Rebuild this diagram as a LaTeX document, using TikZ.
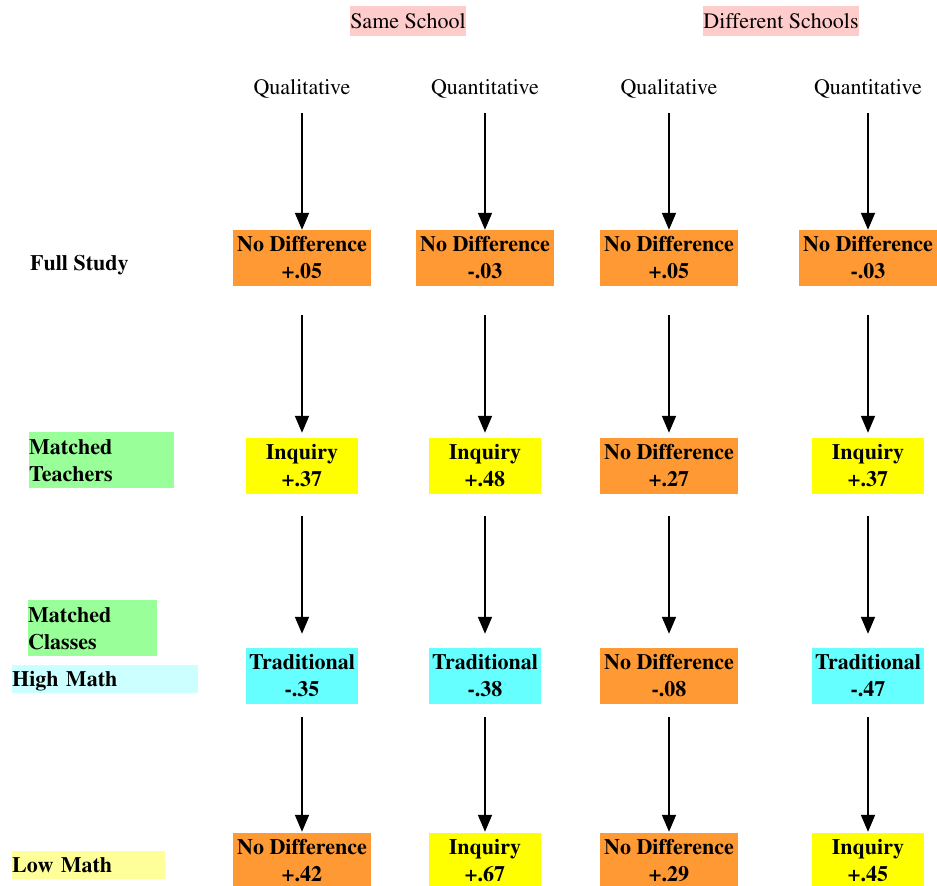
\documentclass[tikz,border=0pt]{standalone}
\usepackage[T1]{fontenc}
\renewcommand{\rmdefault}{ptm}
\usetikzlibrary{arrows.meta}
\definecolor{resorange}{HTML}{FF9933}
\definecolor{resyellow}{HTML}{FFFF00}
\definecolor{rescyan}{HTML}{66FFFF}
\definecolor{labgreen}{HTML}{99FF99}
\definecolor{labcyan}{HTML}{CCFFFF}
\definecolor{labyellow}{HTML}{FFFF99}
\definecolor{grouppink}{HTML}{FFCCCC}
\begin{document}
\begin{tikzpicture}[x=1pt,y=-1pt,
  every node/.style={inner sep=0pt, font=\fontsize{22}{27}\selectfont},
  result/.style={font=\fontsize{22}{27}\selectfont\bfseries, align=center, minimum height=56pt},
  nodiff/.style={result, fill=resorange, minimum width=138pt},
  inquiry/.style={result, fill=resyellow, minimum width=112pt},
  trad/.style={result, fill=rescyan, minimum width=112pt},
  flow/.style={line width=1.8pt, -{Triangle[length=17pt,width=14pt]}},
  header/.style={anchor=base, text depth=0pt},
  group/.style={fill=grouppink, text height=15pt, text depth=0pt, minimum height=30pt},
  rowlabel/.style={font=\fontsize{22}{27}\selectfont\bfseries, align=left, anchor=north west},
  onelabel/.style={rowlabel, minimum height=28pt, text height=15pt, text depth=0pt},
  twolabel/.style={rowlabel, minimum height=56pt},
]
\useasboundingbox (0,0) rectangle (937,886);

% column groups
\node[group, minimum width=112pt] (same) at (408,21) {Same School};
\node[group, minimum width=156pt] (diff) at (781,21) {Different Schools};

% method headers
\node[header] (h1) at (302,94) {Qualitative};
\node[header] (h2) at (485,94) {Quantitative};
\node[header] (h3) at (669,94) {Qualitative};
\node[header] (h4) at (868,94) {Quantitative};

% row labels
\node[rowlabel, anchor=base west] (full) at (30,270) {Full Study};
\node[twolabel, fill=labgreen, text width=145pt] (teach) at (29,432) {Matched\\Teachers};
\node[twolabel, fill=labgreen, text width=129pt] (class) at (28,600) {Matched\\Classes};
\node[onelabel, fill=labcyan, text width=186pt] (high) at (12,665) {High Math};
\node[onelabel, fill=labyellow, text width=153pt] (low) at (12,851) {Low Math};

% results: full study
\node[nodiff] (r1c1) at (302,258) {No Difference\\+.05};
\node[nodiff] (r1c2) at (485,258) {No Difference\\-.03};
\node[nodiff] (r1c3) at (669,258) {No Difference\\+.05};
\node[nodiff] (r1c4) at (868,258) {No Difference\\-.03};

% results: matched teachers
\node[inquiry] (r2c1) at (302,466) {Inquiry\\+.37};
\node[inquiry] (r2c2) at (485,466) {Inquiry\\+.48};
\node[nodiff]  (r2c3) at (669,466) {No Difference\\+.27};
\node[inquiry] (r2c4) at (868,466) {Inquiry\\+.37};

% results: matched classes, high math
\node[trad]   (r3c1) at (302,676) {Traditional\\-.35};
\node[trad]   (r3c2) at (485,676) {Traditional\\-.38};
\node[nodiff] (r3c3) at (669,676) {No Difference\\-.08};
\node[trad]   (r3c4) at (868,676) {Traditional\\-.47};

% results: low math
\node[nodiff]  (r4c1) at (302,861) {No Difference\\+.42};
\node[inquiry] (r4c2) at (485,861) {Inquiry\\+.67};
\node[nodiff]  (r4c3) at (669,861) {No Difference\\+.29};
\node[inquiry] (r4c4) at (868,861) {Inquiry\\+.45};

% arrows down each column
\foreach \c in {1,2,3,4}{
  \draw[flow, shorten <=19pt] (h\c.south) -- (r1c\c.north);
  \draw[flow, shorten <=29pt, shorten >=5pt] (r1c\c.south) -- (r2c\c.north);
  \draw[flow, shorten <=22pt, shorten >=14pt] (r2c\c.south) -- (r3c\c.north);
  \draw[flow, shorten <=13pt, shorten >=1pt] (r3c\c.south) -- (r4c\c.north);
}
\end{tikzpicture}
\end{document}
